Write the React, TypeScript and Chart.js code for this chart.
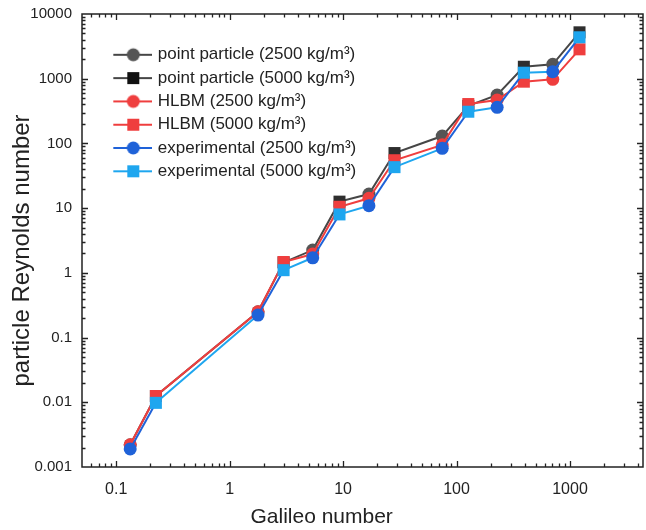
import React, { useEffect, useRef } from 'react';
import { Chart, registerables } from 'chart.js';

Chart.register(...registerables);

// Galileo numbers
const gaLight = [0.133, 1.78, 5.4, 16.9, 74.8, 228, 705]; // 2500 kg/m3
const gaHeavy = [0.224, 2.99, 9.3, 28.4, 127, 392, 1213]; // 5000 kg/m3

// particle Reynolds numbers
const ppLight = [0.0022, 0.25, 2.25, 16.5, 130, 560, 1667];
const ppHeavy = [0.0125, 1.45, 12.6, 71, 380, 1530, 5210];
const hlbmLight = [0.0022, 0.25, 1.95, 14.2, 95, 469, 977];
const hlbmHeavy = [0.0125, 1.47, 10.5, 55, 406, 900, 2845];
const expLight = [0.0019, 0.223, 1.71, 10.9, 84, 361, 1283];
const expHeavy = [0.0098, 1.1, 8.0, 43, 309, 1238, 4366];

const xTickValues = [0.1, 1, 10, 100, 1000];
const xTickLabels = ['0.1', '1', '10', '100', '1000'];
const yTickValues = [0.001, 0.01, 0.1, 1, 10, 100, 1000, 10000];
const yTickLabels = ['0.001', '0.01', '0.1', '1', '10', '100', '1000', '10000'];

const legendTexts = [
  'point particle (2500 kg/m³)',
  'point particle (5000 kg/m³)',
  'HLBM (2500 kg/m³)',
  'HLBM (5000 kg/m³)',
  'experimental (2500 kg/m³)',
  'experimental (5000 kg/m³)',
];

const FONT = '"Liberation Sans", Arial, Helvetica, sans-serif';

const C = {
  grayCircle: '#555555',
  graySquare: '#2e2e2e',
  grayLine: '#464646',
  red: '#ef3e3e',
  blueCircle: '#1f62d8',
  blueSquare: '#1ea6ef',
};

function interleave(light: number[], heavy: number[], ga1: number[], ga2: number[]) {
  const out: { x: number; y: number }[] = [];
  for (let i = 0; i < light.length; i++) {
    out.push({ x: ga1[i], y: light[i] });
    out.push({ x: ga2[i], y: heavy[i] });
  }
  return out;
}

function makeIcon(lineColor: string, markerColor: string, square: boolean) {
  const cv = document.createElement('canvas');
  cv.width = 67;
  cv.height = 20;
  const c = cv.getContext('2d')!;
  c.strokeStyle = lineColor;
  c.lineWidth = 2;
  c.beginPath();
  c.moveTo(28, 10);
  c.lineTo(67, 10);
  c.stroke();
  c.fillStyle = markerColor;
  if (square) {
    c.fillRect(48 - 6, 10 - 6, 12, 12);
  } else {
    c.beginPath();
    c.arc(48, 10, 6.5, 0, Math.PI * 2);
    c.fill();
  }
  return cv;
}

const framePlugin = {
  id: 'frameTicks',
  afterDatasetsDraw(chart: any) {
    const { ctx, chartArea: a, scales } = chart;
    ctx.save();
    ctx.strokeStyle = '#222';
    ctx.lineWidth = 1.3;
    const vals = (min: number, max: number) => {
      const out: { v: number; major: boolean }[] = [];
      for (let e = Math.floor(Math.log10(min)); e <= Math.ceil(Math.log10(max)); e++) {
        for (let m = 1; m <= 9; m++) {
          const v = m * Math.pow(10, e);
          if (v > min * 1.0001 && v < max * 0.9999) out.push({ v, major: m === 1 });
        }
      }
      return out;
    };
    const xs = scales.x;
    for (const t of vals(xs.min, xs.max)) {
      const px = Math.round(xs.getPixelForValue(t.v)) + 0.5;
      const len = t.major ? 6 : 3.5;
      ctx.beginPath();
      ctx.moveTo(px, a.bottom);
      ctx.lineTo(px, a.bottom - len);
      ctx.moveTo(px, a.top);
      ctx.lineTo(px, a.top + len);
      ctx.stroke();
    }
    const ys = scales.y;
    for (const t of vals(ys.min, ys.max)) {
      const py = Math.round(ys.getPixelForValue(t.v)) + 0.5;
      const len = t.major ? 6 : 3.5;
      ctx.beginPath();
      ctx.moveTo(a.left, py);
      ctx.lineTo(a.left + len, py);
      ctx.moveTo(a.right, py);
      ctx.lineTo(a.right - len, py);
      ctx.stroke();
    }
    ctx.lineWidth = 1.5;
    ctx.strokeRect(a.left, a.top, a.right - a.left, a.bottom - a.top);
    ctx.restore();
  },
};

export default function App() {
  const ref = useRef<HTMLCanvasElement>(null);

  useEffect(() => {
    if (!ref.current) return;
    const styleArr = (n: number) => Array.from({ length: n }, (_, i) => (i % 2 === 0 ? 'circle' : 'rect'));
    const radArr = (n: number) => Array.from({ length: n }, (_, i) => (i % 2 === 0 ? 6.5 : 8.5));
    const colArr = (n: number, c1: string, c2: string) => Array.from({ length: n }, (_, i) => (i % 2 === 0 ? c1 : c2));

    const expData = interleave(expLight, expHeavy, gaLight, gaHeavy);
    const hlbmData = interleave(hlbmLight, hlbmHeavy, gaLight, gaHeavy);
    const ppData = interleave(ppLight, ppHeavy, gaLight, gaHeavy);
    const n = expData.length;

    const icons = [
      makeIcon(C.grayLine, C.grayCircle, false),
      makeIcon(C.grayLine, '#111111', true),
      makeIcon(C.red, C.red, false),
      makeIcon(C.red, C.red, true),
      makeIcon(C.blueCircle, C.blueCircle, false),
      makeIcon(C.blueSquare, C.blueSquare, true),
    ];
    const iconColors = [C.grayCircle, '#111111', C.red, C.red, C.blueCircle, C.blueSquare];

    const chart = new Chart(ref.current, {
      type: 'line',
      data: {
        datasets: [
          {
            label: 'experimental',
            data: expData,
            borderColor: C.blueSquare,
            borderWidth: 2,
            segment: {
              borderColor: (c: any) => (c.p0DataIndex % 2 === 0 ? C.blueCircle : C.blueSquare),
            },
            pointStyle: styleArr(n) as any,
            pointRadius: radArr(n),
            pointBackgroundColor: colArr(n, C.blueCircle, C.blueSquare),
            pointBorderColor: colArr(n, C.blueCircle, C.blueSquare),
            pointBorderWidth: 0,
            tension: 0,
          },
          {
            label: 'HLBM',
            data: hlbmData,
            borderColor: C.red,
            borderWidth: 2,
            pointStyle: styleArr(n) as any,
            pointRadius: radArr(n),
            pointBackgroundColor: C.red,
            pointBorderColor: C.red,
            pointBorderWidth: 0,
            tension: 0,
          },
          {
            label: 'point particle',
            data: ppData,
            borderColor: C.grayLine,
            borderWidth: 2,
            pointStyle: styleArr(n) as any,
            pointRadius: radArr(n),
            pointBackgroundColor: colArr(n, C.grayCircle, C.graySquare),
            pointBorderColor: colArr(n, C.grayCircle, C.graySquare),
            pointBorderWidth: 0,
            tension: 0,
          },
        ],
      },
      options: {
        responsive: false,
        animation: false,
        devicePixelRatio: 1,
        layout: { autoPadding: false, padding: { left: 0, top: 14, right: 3, bottom: 0 } },
        font: { family: FONT },
        scales: {
          x: {
            type: 'logarithmic',
            min: 0.05,
            max: 4400,
            grid: { display: false, drawTicks: false },
            border: { display: false },
            afterBuildTicks: (s: any) => {
              s.ticks = xTickValues.map((v) => ({ value: v, major: true }));
            },
            afterFit: (s: any) => {
              s.height = 63;
              s.paddingLeft = 0;
              s.paddingRight = 0;
            },
            ticks: {
              padding: 13,
              color: '#222',
              font: { family: FONT, size: 16 },
              maxRotation: 0,
              autoSkip: false,
              callback: (_v: any, i: number) => xTickLabels[i],
            },
            title: {
              display: true,
              text: 'Galileo number              ',
              color: '#222',
              font: { family: FONT, size: 21 },
              padding: { top: 0, bottom: 0 },
            },
          },
          y: {
            type: 'logarithmic',
            min: 0.001,
            max: 10000,
            grid: { display: false, drawTicks: false },
            border: { display: false },
            afterBuildTicks: (s: any) => {
              s.ticks = yTickValues.map((v) => ({ value: v, major: true }));
            },
            afterFit: (s: any) => {
              s.width = 82;
              s.paddingTop = 0;
              s.paddingBottom = 0;
            },
            ticks: {
              padding: 10,
              color: '#222',
              font: { family: FONT, size: 15 },
              autoSkip: false,
              callback: (_v: any, i: number) => yTickLabels[i],
            },
            title: {
              display: true,
              text: 'particle Reynolds number   ',
              color: '#222',
              font: { family: FONT, size: 24 },
              padding: { top: 8, bottom: 0 },
            },
          },
        },
        plugins: {
          tooltip: { enabled: false },
          legend: {
            position: 'chartArea' as any,
            align: 'start',
            onClick: () => {},
            title: {
              display: true,
              text: '',
              font: { size: 10, lineHeight: 1.2 },
              padding: { top: 28, bottom: 0 },
            },
            labels: {
              usePointStyle: true,
              pointStyleWidth: 61,
              padding: 6.3,
              color: '#222',
              font: { family: FONT, size: 17 },
              generateLabels: () =>
                legendTexts.map((t, i) => ({
                  text: t,
                  pointStyle: icons[i] as any,
                  fillStyle: iconColors[i],
                  strokeStyle: iconColors[i],
                  lineWidth: 0,
                  hidden: false,
                  fontColor: '#222',
                })),
            },
          },
        },
      },
      plugins: [framePlugin],
    } as any);

    return () => chart.destroy();
  }, []);

  return (
    <div style={{ position: 'absolute', left: 0, top: 0, width: 646, height: 530, background: '#fff' }}>
      <canvas ref={ref} width={646} height={530} style={{ display: 'block' }} />
    </div>
  );
}
